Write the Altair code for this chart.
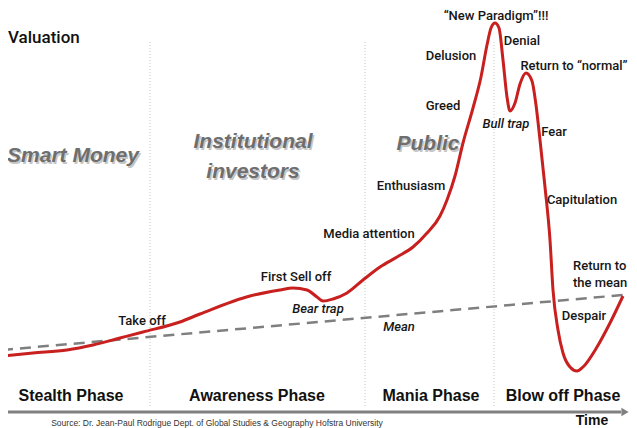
import altair as alt
import pandas as pd

# ---- data (time units, valuation units) ----
curve_t = [-0.6, 2.5, 5.9, 8.5, 11.2, 13.5, 17.2, 19.2, 24.2, 27.2, 28.5, 29.9, 30.9, 31.5,
           32.5, 33.9, 35.5, 37.2, 38.9, 40.5, 41.9, 43.2, 43.9, 44.7, 45.5, 46.5, 47.3, 47.9,
           48.3, 48.7, 49.1, 49.5, 49.9, 50.2, 50.7, 51.2, 51.8, 52.4, 52.8, 53.2, 53.7, 54.2,
           54.5, 55.0, 55.5, 56.2, 56.9, 57.5, 58.9, 60.2, 61.5]
curve_v = [7.2, 7.5, 7.8, 8.3, 9.0, 9.6, 10.6, 11.4, 13.2, 13.8, 14.0, 13.8, 13.1, 12.7,
           12.9, 13.5, 14.8, 16.1, 17.1, 18.1, 19.5, 21.2, 22.8, 25.2, 28.5, 32.0, 35.1, 38.3,
           40.0, 40.5, 40.0, 36.8, 33.1, 31.7, 32.5, 34.4, 35.5, 34.7, 32.3, 28.8, 24.1, 18.8,
           13.8, 9.8, 7.5, 6.1, 5.7, 6.1, 8.1, 10.5, 13.2]

mean_t = [-0.6, 61.5]
mean_v = [7.8, 13.3]

divider_t = [14.2, 35.7, 48.6]
divider_top = 38.6
divider_bottom = 2.2

axis_t = [-0.8, 61.3]
axis_v = 1.6
arrow_t = 61.7

# annotations (regular)
ann_labels = ["Take off", "First Sell off", "Media attention", "Enthusiasm", "Greed",
              "Delusion", "\u201cNew Paradigm\u201d!!!", "Denial", "Return to \u201cnormal\u201d",
              "Fear", "Capitulation", "Despair"]
ann_t = [13.4, 28.8, 36.1, 40.3, 43.5, 44.3, 48.8, 51.4, 56.6, 54.6, 57.4, 57.6]
ann_v = [10.7, 15.1, 19.4, 24.2, 32.2, 37.2, 41.2, 38.7, 36.2, 29.6, 22.8, 11.2]

# left-aligned annotation
ret_labels = ["Return to", "the mean"]
ret_t = [56.5, 56.5]
ret_v = [16.2, 14.5]

# italic annotations
ital_labels = ["Bear trap", "Mean", "Bull trap"]
ital_t = [31.0, 39.1, 49.8]
ital_v = [11.9, 10.1, 30.4]

# investor groups
group_labels = ["Smart Money", "Institutional", "investors", "Public"]
group_t = [6.5, 24.5, 24.5, 42.0]
group_v = [27.2, 28.6, 25.6, 28.4]

# phases
phase_labels = ["Stealth Phase", "Awareness Phase", "Mania Phase", "Blow off Phase"]
phase_t = [6.3, 24.9, 42.3, 55.5]
phase_v = [3.2, 3.2, 3.2, 3.2]

X_DOMAIN = [0, 62.1]
Y_DOMAIN = [0, 42.0]

xs = alt.Scale(domain=X_DOMAIN, nice=False, zero=False)
ys = alt.Scale(domain=Y_DOMAIN, nice=False, zero=False)


def X(field="t"):
    return alt.X(f"{field}:Q", scale=xs, axis=None)


def Y(field="v"):
    return alt.Y(f"{field}:Q", scale=ys, axis=None)


def text_layer(labels, ts, vs, **style):
    df = pd.DataFrame({"label": labels, "t": ts, "v": vs})
    return alt.Chart(df).mark_text(**style).encode(x=X(), y=Y(), text="label:N")


curve_df = pd.DataFrame({"t": curve_t, "v": curve_v})
mean_df = pd.DataFrame({"t": mean_t, "v": mean_v})
div_df = pd.DataFrame({"t": divider_t, "v": [divider_bottom] * 3, "v2": [divider_top] * 3})
axis_df = pd.DataFrame({"t": [axis_t[0]], "t2": [axis_t[1]], "v": [axis_v]})
arrow_df = pd.DataFrame({"t": [arrow_t], "v": [axis_v]})

dividers = alt.Chart(div_df).mark_rule(color="#c4c4c4", strokeWidth=1, strokeDash=[1, 2]).encode(
    x=X(), y=Y(), y2="v2:Q")

mean_line = alt.Chart(mean_df).mark_line(color="#7f7f7f", strokeWidth=2.5, strokeDash=[11, 7]).encode(
    x=X(), y=Y())

curve = alt.Chart(curve_df).mark_line(color="#c8201e", strokeWidth=3, interpolate="monotone").encode(
    x=X(), y=Y())

axis_line = alt.Chart(axis_df).mark_rule(color="#808080", strokeWidth=3).encode(
    x=X(), x2="t2:Q", y=Y())
arrow = alt.Chart(arrow_df).mark_point(shape="triangle-right", size=70, filled=True,
                                        color="#808080", opacity=1).encode(x=X(), y=Y())

FONT = "Roboto"
ann = text_layer(ann_labels, ann_t, ann_v, font=FONT, fontSize=13, fontWeight=500,
                 color="#161616", align="center", baseline="middle")
ret = text_layer(ret_labels, ret_t, ret_v, font=FONT, fontSize=13, fontWeight=500,
                 color="#161616", align="left", baseline="middle")
ital = text_layer(ital_labels, ital_t, ital_v, font=FONT, fontSize=13, fontWeight=500,
                  fontStyle="italic", color="#161616", align="center", baseline="middle")

group_shadow = text_layer(group_labels, group_t, group_v, font="Liberation Sans", fontSize=21,
                          fontWeight="bold", fontStyle="italic", color="#c6c6c6",
                          align="center", baseline="middle", dx=1.5, dy=1.5)
group = text_layer(group_labels, group_t, group_v, font="Liberation Sans", fontSize=21,
                   fontWeight="bold", fontStyle="italic", color="#6e6e6e",
                   align="center", baseline="middle")

phases = text_layer(phase_labels, phase_t, phase_v, font="Liberation Sans", fontSize=16,
                    fontWeight="bold", color="#111111", align="center", baseline="middle")

valuation = text_layer(["Valuation"], [0.0], [39.0], font=FONT, fontSize=17, fontWeight=500,
                       color="#111111", align="left", baseline="middle")
time_lbl = text_layer(["Time"], [58.4], [1.45], font="Liberation Sans", fontSize=14,
                      fontWeight="bold", color="#111111", align="center", baseline="top")
source = text_layer(["Source: Dr. Jean-Paul Rodrigue Dept. of Global Studies & Geography Hofstra University"],
                    [20.9], [0.95], font="Liberation Sans", fontSize=8.5, color="#333333",
                    align="center", baseline="top")

chart = alt.layer(
    dividers, mean_line, axis_line, arrow, curve,
    group_shadow, group, ann, ret, ital, phases, valuation, time_lbl, source
).properties(
    width=621, height=420, padding=0,
    autosize=alt.AutoSizeParams(type="none"),
    background="white",
).configure_view(stroke=None)

chart.save("out.html", embed_options={"renderer": "svg", "actions": False})
